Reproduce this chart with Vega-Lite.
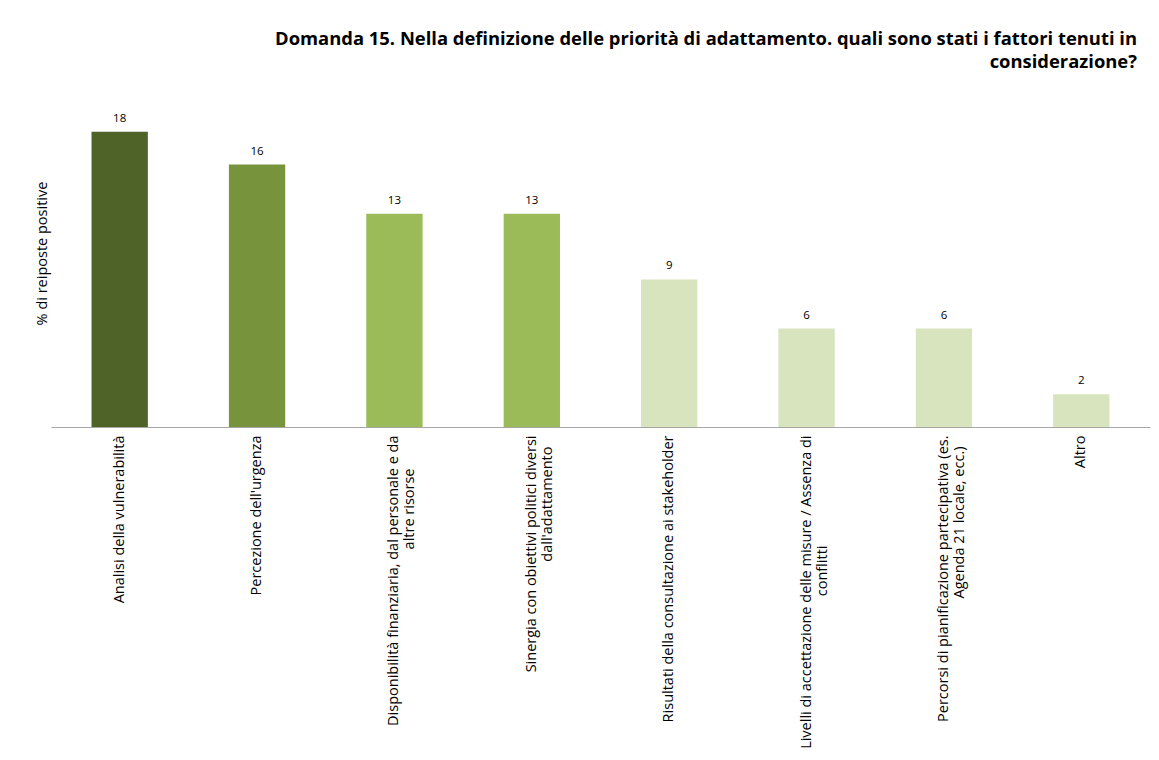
{
  "$schema": "https://vega.github.io/schema/vega-lite/v6.json",
  "autosize": "none",
  "padding": {"left": 51, "top": 99, "right": 9, "bottom": 333},
  "width": 1099,
  "height": 328,
  "background": "white",
  "title": {
    "text": ["Domanda 15. Nella definizione delle priorità di adattamento. quali sono stati i fattori tenuti in", "considerazione?"],
    "anchor": "end",
    "frame": "group",
    "font": "Open Sans",
    "fontSize": 18.4,
    "fontWeight": "bold",
    "color": "black",
    "lineHeight": 23,
    "offset": 28,
    "dx": -13
  },
  "data": {
    "values": [
      {"fattore": "Analisi della vulnerabilità", "valore": 18},
      {"fattore": "Percezione dell'urgenza", "valore": 16},
      {"fattore": "Disponibilità finanziaria, dal personale e da|altre risorse", "valore": 13},
      {"fattore": "Sinergia con obiettivi politici diversi|dall'adattamento", "valore": 13},
      {"fattore": "Risultati della consultazione ai stakeholder", "valore": 9},
      {"fattore": "Livelli di accettazione delle misure / Assenza di|conflitti", "valore": 6},
      {"fattore": "Percorsi di pianificazione partecipativa (es.|Agenda 21 locale, ecc.)", "valore": 6},
      {"fattore": "Altro", "valore": 2}
    ]
  },
  "encoding": {
    "x": {
      "field": "fattore",
      "type": "nominal",
      "sort": null,
      "scale": {"paddingInner": 0.59, "paddingOuter": 0.295},
      "axis": {
        "title": null,
        "labelAngle": -90,
        "labelFont": "Open Sans",
        "labelFontSize": 14.5,
        "labelColor": "black",
        "labelLineHeight": 16,
        "labelPadding": 8,
        "labelLimit": 0,
        "ticks": false,
        "domainColor": "#A6A6A6",
        "domainWidth": 1,
        "labelExpr": "indexof(datum.value, '|') >= 0 ? [split(datum.value, '|')[0], split(datum.value, '|')[1] + slice('\u2800\u2800\u2800\u2800\u2800\u2800\u2800\u2800\u2800\u2800\u2800\u2800\u2800\u2800\u2800\u2800', 0, indexof(datum.value, 'Disponibilit') >= 0 ? 3 : (indexof(datum.value, 'Livelli') >= 0 ? 10 : 1))] : datum.value"
      }
    },
    "y": {
      "field": "valore",
      "type": "quantitative",
      "scale": {"domain": [0, 20], "nice": false},
      "axis": {
        "title": "% di reiposte positive",
        "titleFont": "Open Sans",
        "titleFontSize": 14.5,
        "titleFontWeight": "normal",
        "titleColor": "black",
        "titlePadding": 2,
        "titleY": 154,
        "labels": false,
        "ticks": false,
        "domain": false,
        "grid": false
      }
    }
  },
  "layer": [
    {
      "mark": {"type": "bar"},
      "encoding": {
        "color": {
          "field": "valore",
          "type": "quantitative",
          "scale": {"type": "threshold", "domain": [10, 14, 17], "range": ["#D7E4BD", "#9BBB59", "#77933C", "#4F6228"]},
          "legend": null
        }
      }
    },
    {
      "mark": {"type": "text", "baseline": "bottom", "dy": -8, "font": "Open Sans", "fontSize": 11.5, "color": "black"},
      "encoding": {"text": {"field": "valore", "type": "quantitative"}}
    }
  ],
  "config": {"view": {"stroke": null}}
}
